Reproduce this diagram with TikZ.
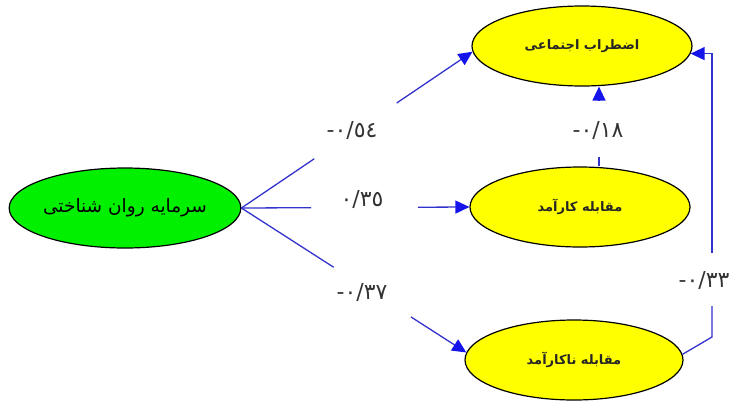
\documentclass[tikz,border=0pt]{standalone}
\usepackage{fontspec}
\setmainfont{DejaVu Sans}
\newfontfamily\arabicfont[Script=Arabic]{DejaVu Sans}
\newfontfamily\numfont{DejaVu Sans}
\TeXXeTstate=1
\usetikzlibrary{arrows.meta,shapes.geometric,calc}
\definecolor{lineblue}{RGB}{50,50,205}
\definecolor{tipblue}{RGB}{20,20,235}
\definecolor{ellgreen}{RGB}{0,240,0}
\definecolor{ellyellow}{RGB}{255,255,0}
\begin{document}
\begin{tikzpicture}[x=1pt,y=-1pt,
  ell/.style={ellipse, draw=black, line width=1.2pt, inner sep=0pt, minimum width=220pt, minimum height=80pt},
  conn/.style={draw=lineblue, line width=1.3pt},
  arr/.style={conn, -{Triangle[length=14pt,width=13pt,color=tipblue]}},
  coef/.style={font=\numfont\fontsize{22}{24}\selectfont, text=black!80, inner sep=1pt},
  big/.style={font=\arabicfont\fontsize{18.5}{20}\selectfont},
  small/.style={font=\arabicfont\bfseries\fontsize{13}{15}\selectfont, text=black!85}
]
\useasboundingbox (0,0) rectangle (737,400);

\node[ell, fill=ellgreen, big] (g) at (125,208) {\beginR سرمایه روان شناختی\endR};
\node[ell, fill=ellyellow, small] (t) at (582,46) {\beginR اضطراب اجتماعی\endR};
\node[ell, fill=ellyellow, small] (m) at (580,207) {\beginR مقابله کارآمد\endR};
\node[ell, fill=ellyellow, small, minimum width=218pt] (b) at (574,360) {\beginR مقابله ناکارآمد\endR};

% coefficient labels
\node[coef] (l54) at (352,130) {-٠/٥٤};
\node[coef] (l35) at (362,199) {٠/٣٥};
\node[coef] (l37) at (362,292) {-٠/٣٧};
\node[coef] (l18) at (598,130) {-٠/١٨};
\node[coef] (l33) at (704,280) {-٠/٣٣};

% break points of the connectors
\coordinate (u1) at ($(g.east)!0.315!(t.183)$);
\coordinate (u2) at ($(g.east)!0.672!(t.183)$);
\coordinate (v1) at ($(g.east)!0.306!(m.west)$);
\coordinate (v2) at ($(g.east)!0.774!(m.west)$);
\coordinate (w1) at ($(g.east)!0.41!(b.176)$);
\coordinate (w2) at ($(g.east)!0.754!(b.176)$);
\coordinate (k1) at (599,157);
\coordinate (k2) at (599,100);
\coordinate (r1) at (712,337);
\coordinate (r2) at (712,306);
\coordinate (r3) at (712,253);

% psychological capital -> outcomes
\draw[conn] (g.east) -- (u1);
\draw[arr] (u2) -- (t.183);
\draw[conn] (g.east) -- (v1);
\draw[arr] (v2) -- (m.west);
\draw[conn] (g.east) -- (w1);
\draw[arr] (w2) -- (b.176);

% efficient coping -> social anxiety
\draw[conn] (k1 |- m.north) -- (k1);
\draw[arr] (k2) -- (k2 |- t.south);

% inefficient coping -> social anxiety
\draw[conn] (b.3) -- (r1) -- (r2);
\draw[arr] (r3) -- (r3 |- t.356) -- (t.356);
\end{tikzpicture}
\end{document}
